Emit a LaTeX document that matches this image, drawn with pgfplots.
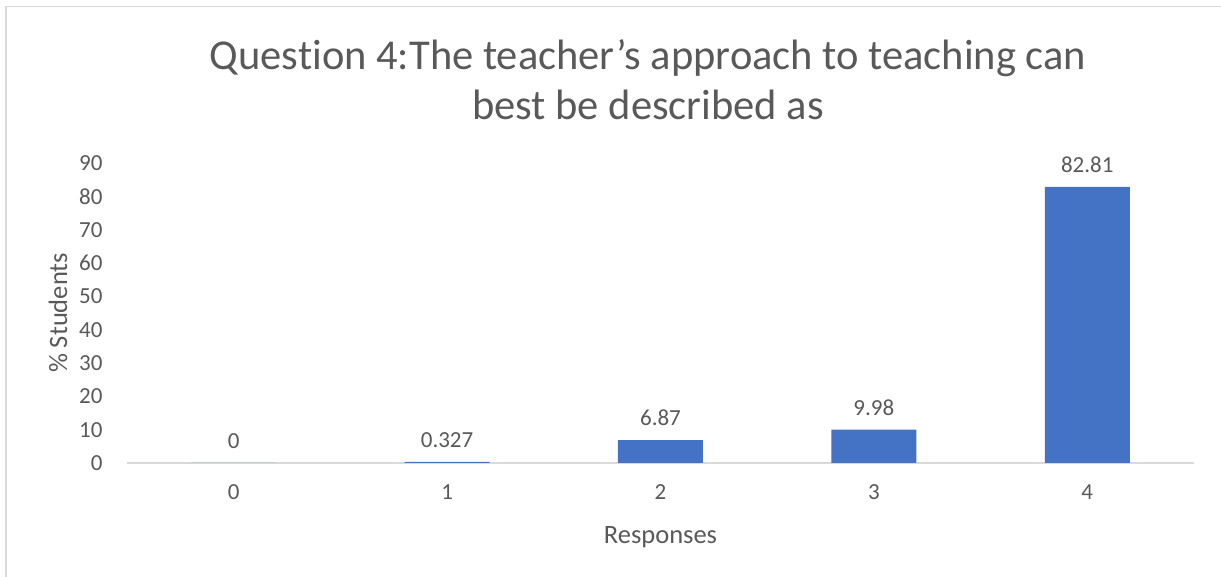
\documentclass[border=0pt]{standalone}
\usepackage{pgfplots}
\pgfplotsset{compat=1.18}
\usepackage{fontspec}
\setmainfont{Carlito}[Ligatures={TeX,NoCommon}]
\definecolor{txt}{HTML}{595959}
\definecolor{barblue}{HTML}{4472C4}
\definecolor{gridc}{HTML}{D9D9D9}
\begin{document}
\begin{tikzpicture}[x=1pt,y=1pt]
\useasboundingbox (0,0) rectangle (1221,577);
\draw[gridc,line width=1.5pt] (6,0) -- (6,570.5) -- (1221,570.5);
\node[txt,font=\fontsize{42.5}{50}\selectfont,align=center] at (648,497) {Question 4:The teacher’s approach to teaching can\\best be described as};
\begin{axis}[
  at={(127pt,114pt)}, anchor=south west,
  scale only axis, width=1067pt, height=300pt,
  xmin=-0.5, xmax=4.5, ymin=0, ymax=90,
  ybar, bar width=85pt,
  axis x line*=bottom, axis y line=none,
  x axis line style={gridc,line width=1.5pt},
  xtick={0,1,2,3,4}, ytick={0,10,...,90},
  major tick length=0pt,
  ticklabel style={txt,font=\fontsize{23}{27}\selectfont},
  /pgf/number format/assume math mode=true,
  xticklabel style={yshift=-18pt},
  xlabel={Responses},
  xlabel style={txt,font=\fontsize{26.5}{31}\selectfont,yshift=-20pt},
  nodes near coords,
  nodes near coords style={txt,font=\fontsize{23}{27}\selectfont,yshift=11pt},
  point meta=explicit symbolic,
  clip=false,
]
\addplot[fill=barblue,draw=none] coordinates {(0,0)[0] (1,0.327)[0.327] (2,6.87)[6.87] (3,9.98)[9.98] (4,82.81)[82.81]};
\pgfplotsextra{
  \foreach \v in {0,10,...,90} {
    \node[txt,font=\fontsize{23}{27}\selectfont,anchor=east] at (axis cs:-0.5,\v) [xshift=-21pt] {\v};
  }
}
\end{axis}
\node[txt,font=\fontsize{26.5}{31}\selectfont,rotate=90] at (58,264) {\% Students};
\end{tikzpicture}
\end{document}
